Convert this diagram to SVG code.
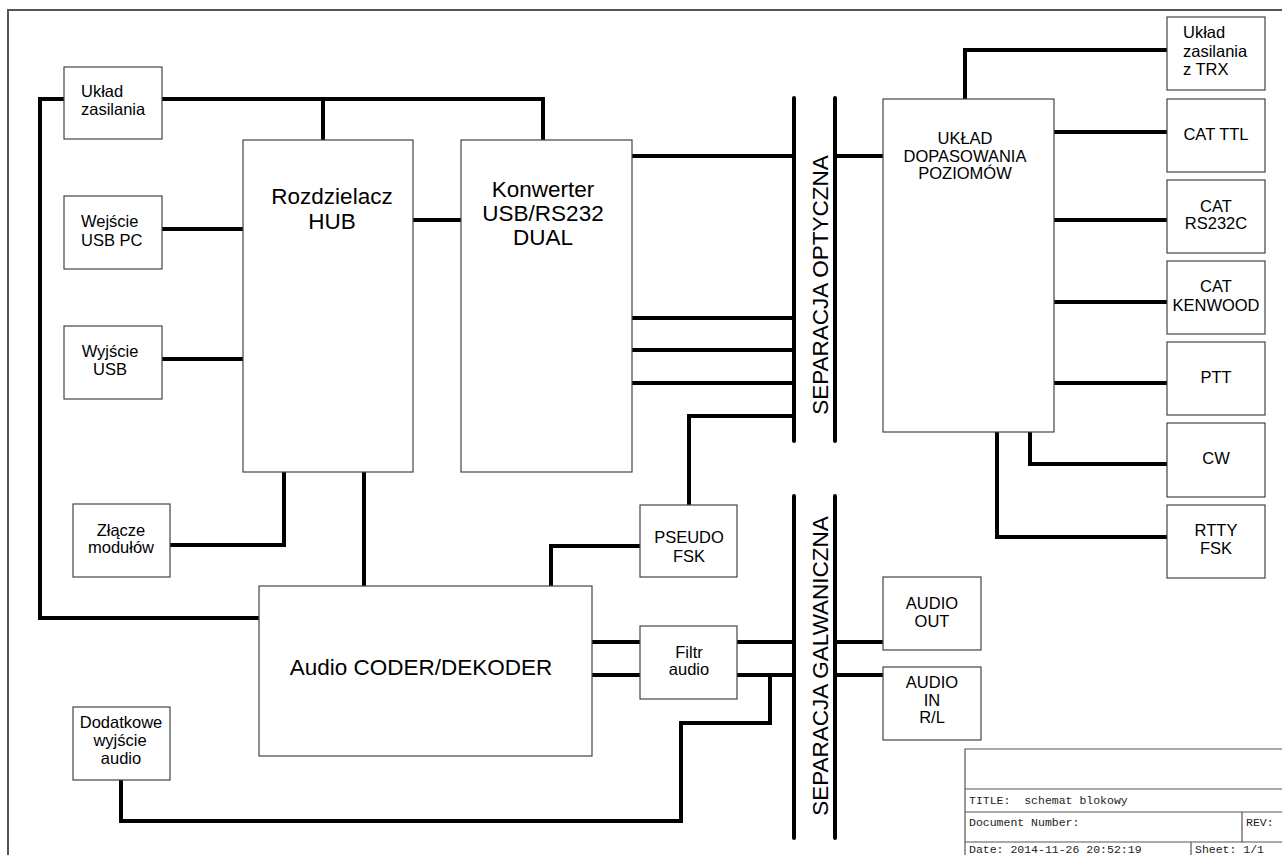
<svg xmlns="http://www.w3.org/2000/svg" width="1282" height="855" viewBox="0 0 1282 855">
<style>
.box{fill:#fff;stroke:#444;stroke-width:1.2}
.w{fill:none;stroke:#000;stroke-width:4;stroke-linejoin:miter}
.bar{fill:none;stroke:#000;stroke-width:4;stroke-linecap:round}
.t{font-family:"Liberation Sans",Arial,sans-serif;font-size:16.5px;fill:#000}
.c{text-anchor:middle}
.big{font-size:22.5px}
.tb{fill:none;stroke:#555;stroke-width:1.2}
.m{font-family:"Liberation Mono","DejaVu Sans Mono",monospace;font-size:11.5px;fill:#222;white-space:pre}
</style>
<rect width="1282" height="855" fill="#fff"/>
<path d="M8,855 V10 H1282" fill="none" stroke="#555" stroke-width="2"/>

<g id="connectors">
<path class="w" d="M64,99 H40 V618 H259"/>
<path class="w" d="M162,99 H543 V140"/>
<path class="w" d="M323,99 V140"/>
<path class="w" d="M162,229 H243"/>
<path class="w" d="M413,220 H461"/>
<path class="w" d="M162,359 H243"/>
<path class="w" d="M170,545 H284 V472"/>
<path class="w" d="M364,472 V586"/>
<path class="w" d="M632,156 H794"/>
<path class="w" d="M835,156 H883"/>
<path class="w" d="M632,318 H794 M632,350 H794 M632,383 H794"/>
<path class="w" d="M794,416 H689 V505"/>
<path class="w" d="M640,546 H551 V586"/>
<path class="w" d="M965,99 V50 H1167"/>
<path class="w" d="M1054,132 H1167 M1054,220 H1167 M1054,302 H1167 M1054,383 H1167"/>
<path class="w" d="M1030,432 V464 H1167"/>
<path class="w" d="M997,432 V537 H1167"/>
<path class="w" d="M592,642 H640 M592,675 H640"/>
<path class="w" d="M737,642 H794 M737,675 H794"/>
<path class="w" d="M835,642 H883 M835,675 H883"/>
<path class="w" d="M770,675 V723 H681 V821 H121 V780"/>
</g>

<g id="sep-optyczna">
<path class="bar" d="M794,98 V441 M835,98 V441"/>
<text class="t big c" transform="translate(828,285) rotate(-90)">SEPARACJA OPTYCZNA</text>
</g>
<g id="sep-galwaniczna">
<path class="bar" d="M794,496 V838 M835,496 V838"/>
<text class="t big c" transform="translate(828,666) rotate(-90)">SEPARACJA GALWANICZNA</text>
</g>

<g id="uklad-zasilania">
<rect class="box" x="64" y="67" width="98" height="72"/>
<text class="t" x="81" y="97">Układ</text>
<text class="t" x="81" y="115">zasilania</text>
</g>
<g id="wejscie-usb-pc">
<rect class="box" x="64" y="196" width="98" height="73"/>
<text class="t" x="81" y="227">Wejście</text>
<text class="t" x="81" y="246">USB PC</text>
</g>
<g id="wyjscie-usb">
<rect class="box" x="64" y="326" width="98" height="73"/>
<text class="t c" x="110" y="357">Wyjście</text>
<text class="t c" x="110" y="375">USB</text>
</g>
<g id="zlacze-modulow">
<rect class="box" x="73" y="504" width="97" height="73"/>
<text class="t c" x="121" y="536">Złącze</text>
<text class="t c" x="121" y="553">modułów</text>
</g>
<g id="dodatkowe-wyjscie">
<rect class="box" x="73" y="707" width="97" height="73"/>
<text class="t c" x="121" y="728">Dodatkowe</text>
<text class="t c" x="120" y="746">wyjście</text>
<text class="t c" x="121" y="764">audio</text>
</g>
<g id="hub">
<rect class="box" x="243" y="140" width="170" height="332"/>
<text class="t big c" x="332" y="204">Rozdzielacz</text>
<text class="t big c" x="332" y="229">HUB</text>
</g>
<g id="konwerter">
<rect class="box" x="461" y="140" width="171" height="332"/>
<text class="t big c" x="543" y="197">Konwerter</text>
<text class="t big c" x="543" y="221">USB/RS232</text>
<text class="t big c" x="543" y="245">DUAL</text>
</g>
<g id="pseudo-fsk">
<rect class="box" x="640" y="505" width="97" height="72"/>
<text class="t c" x="689" y="543">PSEUDO</text>
<text class="t c" x="689" y="562">FSK</text>
</g>
<g id="audio-coder">
<rect class="box" x="259" y="586" width="333" height="170"/>
<text class="t big c" x="421" y="675">Audio CODER/DEKODER</text>
</g>
<g id="filtr-audio">
<rect class="box" x="640" y="626" width="97" height="73"/>
<text class="t c" x="689" y="658">Filtr</text>
<text class="t c" x="689" y="675">audio</text>
</g>
<g id="uklad-dopasowania">
<rect class="box" x="883" y="99" width="171" height="333"/>
<text class="t c" x="965" y="144">UKŁAD</text>
<text class="t c" x="965" y="162">DOPASOWANIA</text>
<text class="t c" x="965" y="179">POZIOMÓW</text>
</g>
<g id="zasilanie-trx">
<rect class="box" x="1167" y="17" width="98" height="73"/>
<text class="t" x="1183" y="38">Układ</text>
<text class="t" x="1183" y="57">zasilania</text>
<text class="t" x="1183" y="75">z TRX</text>
</g>
<g id="cat-ttl">
<rect class="box" x="1167" y="99" width="98" height="73"/>
<text class="t c" x="1216" y="140">CAT TTL</text>
</g>
<g id="cat-rs232c">
<rect class="box" x="1167" y="180" width="98" height="73"/>
<text class="t c" x="1216" y="212">CAT</text>
<text class="t c" x="1216" y="229">RS232C</text>
</g>
<g id="cat-kenwood">
<rect class="box" x="1167" y="261" width="98" height="73"/>
<text class="t c" x="1216" y="292">CAT</text>
<text class="t c" x="1216" y="311">KENWOOD</text>
</g>
<g id="ptt">
<rect class="box" x="1167" y="342" width="98" height="73"/>
<text class="t c" x="1216" y="383">PTT</text>
</g>
<g id="cw">
<rect class="box" x="1167" y="423" width="98" height="74"/>
<text class="t c" x="1216" y="464">CW</text>
</g>
<g id="rtty-fsk">
<rect class="box" x="1167" y="505" width="98" height="73"/>
<text class="t c" x="1216" y="536">RTTY</text>
<text class="t c" x="1216" y="554">FSK</text>
</g>
<g id="audio-out">
<rect class="box" x="883" y="577" width="98" height="73"/>
<text class="t c" x="932" y="609">AUDIO</text>
<text class="t c" x="932" y="627">OUT</text>
</g>
<g id="audio-in">
<rect class="box" x="883" y="667" width="98" height="73"/>
<text class="t c" x="932" y="688">AUDIO</text>
<text class="t c" x="932" y="706">IN</text>
<text class="t c" x="932" y="723">R/L</text>
</g>

<g id="title-block">
<path class="tb" d="M965,855 V749 H1282 M965,789 H1282 M965,812 H1282 M965,842 H1282 M1242,812 V842 M1191,842 V855"/>
<text class="m" x="969" y="804" xml:space="preserve">TITLE:  schemat blokowy</text>
<text class="m" x="969" y="826">Document Number:</text>
<text class="m" x="1246" y="826">REV:</text>
<text class="m" x="969" y="853">Date: 2014-11-26 20:52:19</text>
<text class="m" x="1195" y="853">Sheet: 1/1</text>
</g>
</svg>
